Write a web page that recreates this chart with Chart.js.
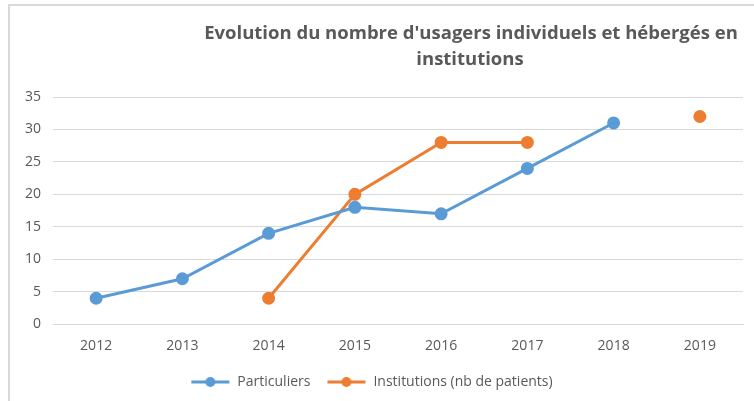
<!DOCTYPE html>
<html lang="fr">
<head>
  <meta charset="UTF-8" />
  <title>Evolution du nombre d'usagers</title>
  <script src="https://cdn.jsdelivr.net/npm/chart.js"></script>
  <style>
    body { margin: 0; background: #fff; font-family: "Open Sans", Arial, sans-serif; }
    .wrap { position: relative; width: 754px; height: 401px; }
    .frame { position: absolute; left: 8px; top: 4px; right: -10px; bottom: -10px; border-left: 2px solid #d9d9d9; border-top: 2px solid #d9d9d9; pointer-events: none; }
    canvas { position: absolute; left: 0; top: 0; }
  </style>
</head>
<body>
<div class="wrap">
  <canvas id="usagers" width="754" height="401"></canvas>
  <div class="frame"></div>
</div>

<script>
const years = ["2012", "2013", "2014", "2015", "2016", "2017", "2018", "2019"];
const particuliers = [4, 7, 14, 18, 17, 24, 31, null];
const institutions = [null, null, 4, 20, 28, 28, null, 32];
const titleLines = ["Evolution du nombre d'usagers individuels et hébergés en", "institutions"];
const seriesNames = ["Particuliers", "Institutions (nb de patients)"];

const blue = '#5b9bd5';
const orange = '#ed7d31';
const grey = '#595959';

// little line-with-dot marker for the legend, like Excel
function legendMarker(color) {
  const c = document.createElement('canvas');
  c.width = 40; c.height = 12;
  const ctx = c.getContext('2d');
  ctx.strokeStyle = color; ctx.lineWidth = 3;
  ctx.beginPath(); ctx.moveTo(1, 6); ctx.lineTo(39, 6); ctx.stroke();
  ctx.fillStyle = color;
  ctx.beginPath(); ctx.arc(20, 6, 5, 0, Math.PI * 2); ctx.fill();
  return c;
}

// title drawn off-centre, as in the original
const titlePlugin = {
  id: 'offTitle',
  afterDraw(chart) {
    const ctx = chart.ctx;
    ctx.save();
    ctx.fillStyle = grey;
    ctx.font = 'bold 18.5px "Open Sans"';
    ctx.textAlign = 'center';
    ctx.textBaseline = 'middle';
    ctx.fillText(titleLines[0], 471, 34);
    ctx.fillText(titleLines[1], 470, 60);
    ctx.restore();
  }
};

new Chart(document.getElementById('usagers'), {
  type: 'line',
  data: {
    labels: years,
    datasets: [{
      label: seriesNames[0],
      data: particuliers,
      borderColor: blue,
      backgroundColor: blue,
      borderWidth: 3,
      pointRadius: 5,
      pointHoverRadius: 5,
      tension: 0
    }, {
      label: seriesNames[1],
      data: institutions,
      borderColor: orange,
      backgroundColor: orange,
      borderWidth: 3,
      pointRadius: 5,
      pointHoverRadius: 5,
      tension: 0
    }]
  },
  options: {
    responsive: false,
    animation: false,
    spanGaps: false,
    layout: { padding: { top: 97, right: 11, left: 0, bottom: 2 } },
    plugins: {
      title: { display: false },
      tooltip: { enabled: false },
      legend: {
        position: 'bottom',
        labels: {
          color: grey,
          font: { family: 'Open Sans', size: 14 },
          usePointStyle: true,
          pointStyleWidth: 40,
          padding: 16,
          generateLabels(chart) {
            return chart.data.datasets.map((ds, i) => ({
              text: ds.label,
              pointStyle: legendMarker(ds.borderColor),
              fillStyle: ds.borderColor,
              strokeStyle: ds.borderColor,
              fontColor: grey,
              lineWidth: 0,
              datasetIndex: i
            }));
          }
        }
      }
    },
    scales: {
      x: {
        offset: true,
        grid: { display: false },
        border: { color: '#d9d9d9' },
        ticks: { color: grey, font: { family: 'Open Sans', size: 14 }, padding: 5 }
      },
      y: {
        min: 0,
        max: 35,
        afterFit(scale) { scale.width = 53; },
        grid: { color: '#d9d9d9', drawTicks: false },
        border: { display: false },
        ticks: { stepSize: 5, color: grey, font: { family: 'Open Sans', size: 14 }, padding: 12 }
      }
    }
  },
  plugins: [titlePlugin]
});
</script>
</body>
</html>
